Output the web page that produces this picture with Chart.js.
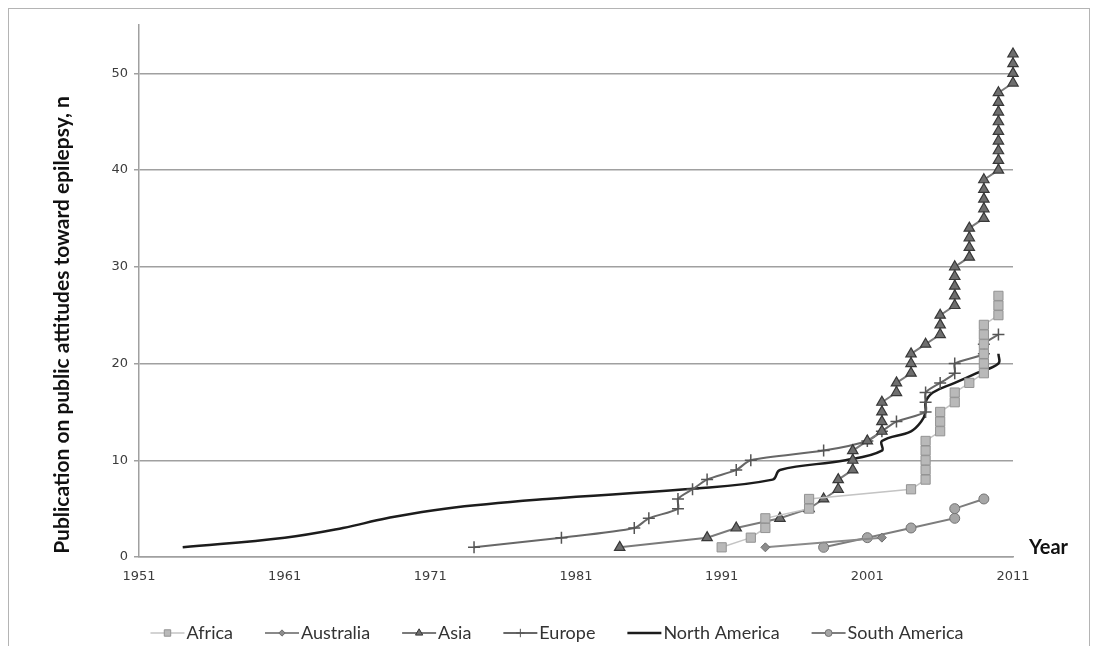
<!DOCTYPE html>
<html>
<head>
<meta charset="utf-8">
<script src="https://cdn.jsdelivr.net/npm/chart.js@4.4.1/dist/chart.umd.min.js"></script>
<style>
  html, body { margin: 0; padding: 0; background: #fff; }
  .chart-container { position: relative; width: 1096px; height: 646px; }
</style>
</head>
<body>
<div class="chart-container"><canvas id="myCanvas"></canvas></div>
<script>
const canvas = document.querySelector("#myCanvas");

// axis ticks
const xTickYears = [1951, 1961, 1971, 1981, 1991, 2001, 2011];
const yTickValues = [0, 10, 20, 30, 40, 50];

// cumulative publications per region
const africaYears = [1991, 1993, 1994, 1994, 1997, 1997, 2004, 2005, 2005, 2005, 2005, 2005, 2006, 2006, 2006, 2007, 2007, 2008, 2009, 2009, 2009, 2009, 2009, 2009, 2010, 2010, 2010];
const africaCounts = [1, 2, 3, 4, 5, 6, 7, 8, 9, 10, 11, 12, 13, 14, 15, 16, 17, 18, 19, 20, 21, 22, 23, 24, 25, 26, 27];

const australiaYears = [1994, 2002];
const australiaCounts = [1, 2];

const asiaYears = [1984, 1990, 1992, 1995, 1997, 1998, 1999, 1999, 2000, 2000, 2000, 2001, 2002, 2002, 2002, 2002, 2003, 2003, 2004, 2004, 2004, 2005, 2006, 2006, 2006, 2007, 2007, 2007, 2007, 2007, 2008, 2008, 2008, 2008, 2009, 2009, 2009, 2009, 2009, 2010, 2010, 2010, 2010, 2010, 2010, 2010, 2010, 2010, 2011, 2011, 2011, 2011];
const asiaCounts = [1, 2, 3, 4, 5, 6, 7, 8, 9, 10, 11, 12, 13, 14, 15, 16, 17, 18, 19, 20, 21, 22, 23, 24, 25, 26, 27, 28, 29, 30, 31, 32, 33, 34, 35, 36, 37, 38, 39, 40, 41, 42, 43, 44, 45, 46, 47, 48, 49, 50, 51, 52];

const europeYears = [1974, 1980, 1985, 1986, 1988, 1988, 1989, 1990, 1992, 1993, 1998, 2001, 2002, 2003, 2005, 2005, 2005, 2006, 2007, 2007, 2009, 2009, 2010];
const europeCounts = [1, 2, 3, 4, 5, 6, 7, 8, 9, 10, 11, 12, 13, 14, 15, 16, 17, 18, 19, 20, 21, 22, 23];

const northAmericaYears = [1954, 1961, 1965, 1968, 1972, 1979, 1988.5, 1994.5, 1995, 1999.5, 2002, 2002, 2004, 2004.7, 2005, 2005, 2005.5, 2007, 2008.5, 2010, 2010];
const northAmericaCounts = [1, 2, 3, 4, 5, 6, 7, 8, 9, 10, 11, 12, 13, 14, 15, 16, 17, 18, 19, 20, 21];

const southAmericaYears = [1998, 2001, 2004, 2007, 2007, 2009];
const southAmericaCounts = [1, 2, 3, 4, 5, 6];

function toPoints(years, counts) {
  return years.map((x, i) => ({ x: x, y: counts[i] }));
}

const tickFont = { family: "'DejaVu Sans', Verdana, sans-serif", size: 13 };
const gridGray = "#a0a0a0";

const data = {
  datasets: [
    {
      label: "Africa",
      data: toPoints(africaYears, africaCounts),
      borderColor: "#c4c4c4",
      borderWidth: 1.5,
      pointStyle: "rect",
      pointRadius: 6.5,
      pointBackgroundColor: "#b9b9b9",
      pointBorderColor: "#939393",
      pointBorderWidth: 1,
      tension: 0,
    },
    {
      label: "Australia",
      data: toPoints(australiaYears, australiaCounts),
      borderColor: "#8a8a8a",
      borderWidth: 2,
      pointStyle: "rectRot",
      pointRadius: 4.5,
      pointBackgroundColor: "#8c8c8c",
      pointBorderColor: "#6e6e6e",
      pointBorderWidth: 1,
      tension: 0,
    },
    {
      label: "Asia",
      data: toPoints(asiaYears, asiaCounts),
      borderColor: "#7a7a7a",
      borderWidth: 2,
      pointStyle: "triangle",
      pointRadius: 6,
      pointBackgroundColor: "#6e6e6e",
      pointBorderColor: "#383838",
      pointBorderWidth: 1.2,
      tension: 0,
    },
    {
      label: "Europe",
      data: toPoints(europeYears, europeCounts),
      borderColor: "#676767",
      borderWidth: 2,
      pointStyle: "cross",
      pointRadius: 6,
      pointBackgroundColor: "#555",
      pointBorderColor: "#555",
      pointBorderWidth: 1.5,
      tension: 0.25,
    },
    {
      label: "North America",
      data: toPoints(northAmericaYears, northAmericaCounts),
      borderColor: "#1c1c1c",
      borderWidth: 2.5,
      pointRadius: 0,
      tension: 0.4,
    },
    {
      label: "South America",
      data: toPoints(southAmericaYears, southAmericaCounts),
      borderColor: "#7d7d7d",
      borderWidth: 2,
      pointStyle: "circle",
      pointRadius: 5,
      pointBackgroundColor: "#a6a6a6",
      pointBorderColor: "#737373",
      pointBorderWidth: 1,
      tension: 0,
    },
  ],
};

// titles, custom legend and frame
const decorations = {
  id: "decorations",
  beforeDraw(chart) {
    const ctx = chart.ctx;
    ctx.save();
    ctx.strokeStyle = "#b4b4b4";
    ctx.lineWidth = 1;
    ctx.strokeRect(8.5, 8.5, 1081, 700);
    ctx.restore();
  },
  afterDraw(chart) {
    const ctx = chart.ctx;
    const area = chart.chartArea;
    const yScale = chart.scales.y;

    // y title, sized to span the same length as the original
    ctx.save();
    ctx.font = "bold 18px Lato, sans-serif";
    const titleText = "Publication on public attitudes toward epilepsy, n";
    const fitSize = Math.min(21, 18 * 458 / ctx.measureText(titleText).width);
    ctx.translate(62, 325);
    ctx.rotate(-Math.PI / 2);
    ctx.font = `bold ${fitSize}px Lato, sans-serif`;
    ctx.fillStyle = "#111";
    ctx.textAlign = "center";
    ctx.textBaseline = "middle";
    ctx.fillText(titleText, 0, 0);
    ctx.restore();

    // "Year" at the end of the x axis
    ctx.save();
    ctx.font = "bold 20px Lato, sans-serif";
    ctx.fillStyle = "#111";
    ctx.textAlign = "left";
    ctx.textBaseline = "middle";
    ctx.fillText("Year", area.right + 16, yScale.getPixelForValue(0) - 9);
    ctx.restore();

    // legend: line with marker + label
    ctx.save();
    ctx.font = "18px Lato, sans-serif";
    ctx.textBaseline = "middle";
    const symW = 34, gapText = 2, gapItem = 32;
    const items = chart.data.datasets.map((ds) => ({
      ds,
      w: symW + gapText + ctx.measureText(ds.label).width,
    }));
    const total = items.reduce((acc, it) => acc + it.w, 0) + gapItem * (items.length - 1);
    let x = 557 - total / 2;
    const y = 633;
    items.forEach((it) => {
      const ds = it.ds;
      ctx.strokeStyle = ds.borderColor;
      ctx.lineWidth = ds.borderWidth;
      ctx.beginPath();
      ctx.moveTo(x, y);
      ctx.lineTo(x + symW, y);
      ctx.stroke();
      if (ds.pointRadius > 0) {
        ctx.fillStyle = ds.pointBackgroundColor;
        ctx.strokeStyle = ds.pointBorderColor;
        ctx.lineWidth = 1;
        Chart.helpers.drawPoint(ctx, {
          pointStyle: ds.pointStyle,
          radius: ds.pointRadius * 0.7,
          rotation: 0,
          borderWidth: 1,
        }, x + symW / 2, y);
      }
      ctx.fillStyle = "#333";
      ctx.textAlign = "left";
      ctx.fillText(ds.label, x + symW + gapText, y);
      x += it.w + gapItem;
    });
    ctx.restore();
  },
};

const config = {
  type: "scatter",
  data: data,
  options: {
    responsive: true,
    maintainAspectRatio: false,
    animation: false,
    showLine: true,
    layout: { padding: { top: 25, right: 83, left: 0, bottom: 0 } },
    datasets: { scatter: { clip: false } },
    plugins: {
      legend: { display: false },
      tooltip: { enabled: false },
    },
    scales: {
      x: {
        type: "linear",
        min: 1951,
        max: 2011,
        afterBuildTicks: (s) => { s.ticks = xTickYears.map((v) => ({ value: v })); },
        afterFit: (s) => { s.height = 89; },
        grid: { display: false, drawTicks: false },
        border: { display: true, color: gridGray, width: 1.5 },
        ticks: {
          callback: (v) => String(v),
          padding: 12,
          font: tickFont,
          color: "#3c3c3c",
          maxRotation: 0,
          autoSkip: false,
        },
      },
      y: {
        min: 0,
        max: 55,
        afterBuildTicks: (s) => { s.ticks = yTickValues.map((v) => ({ value: v })); },
        afterFit: (s) => { s.width = 139; },
        grid: { color: gridGray, lineWidth: 1.5, tickLength: 5, drawTicks: true },
        border: { display: true, color: gridGray, width: 1.5 },
        ticks: { padding: 6, font: tickFont, color: "#3c3c3c" },
      },
    },
  },
  plugins: [decorations],
};

const myChart = new Chart(canvas, config);
</script>
</body>
</html>
